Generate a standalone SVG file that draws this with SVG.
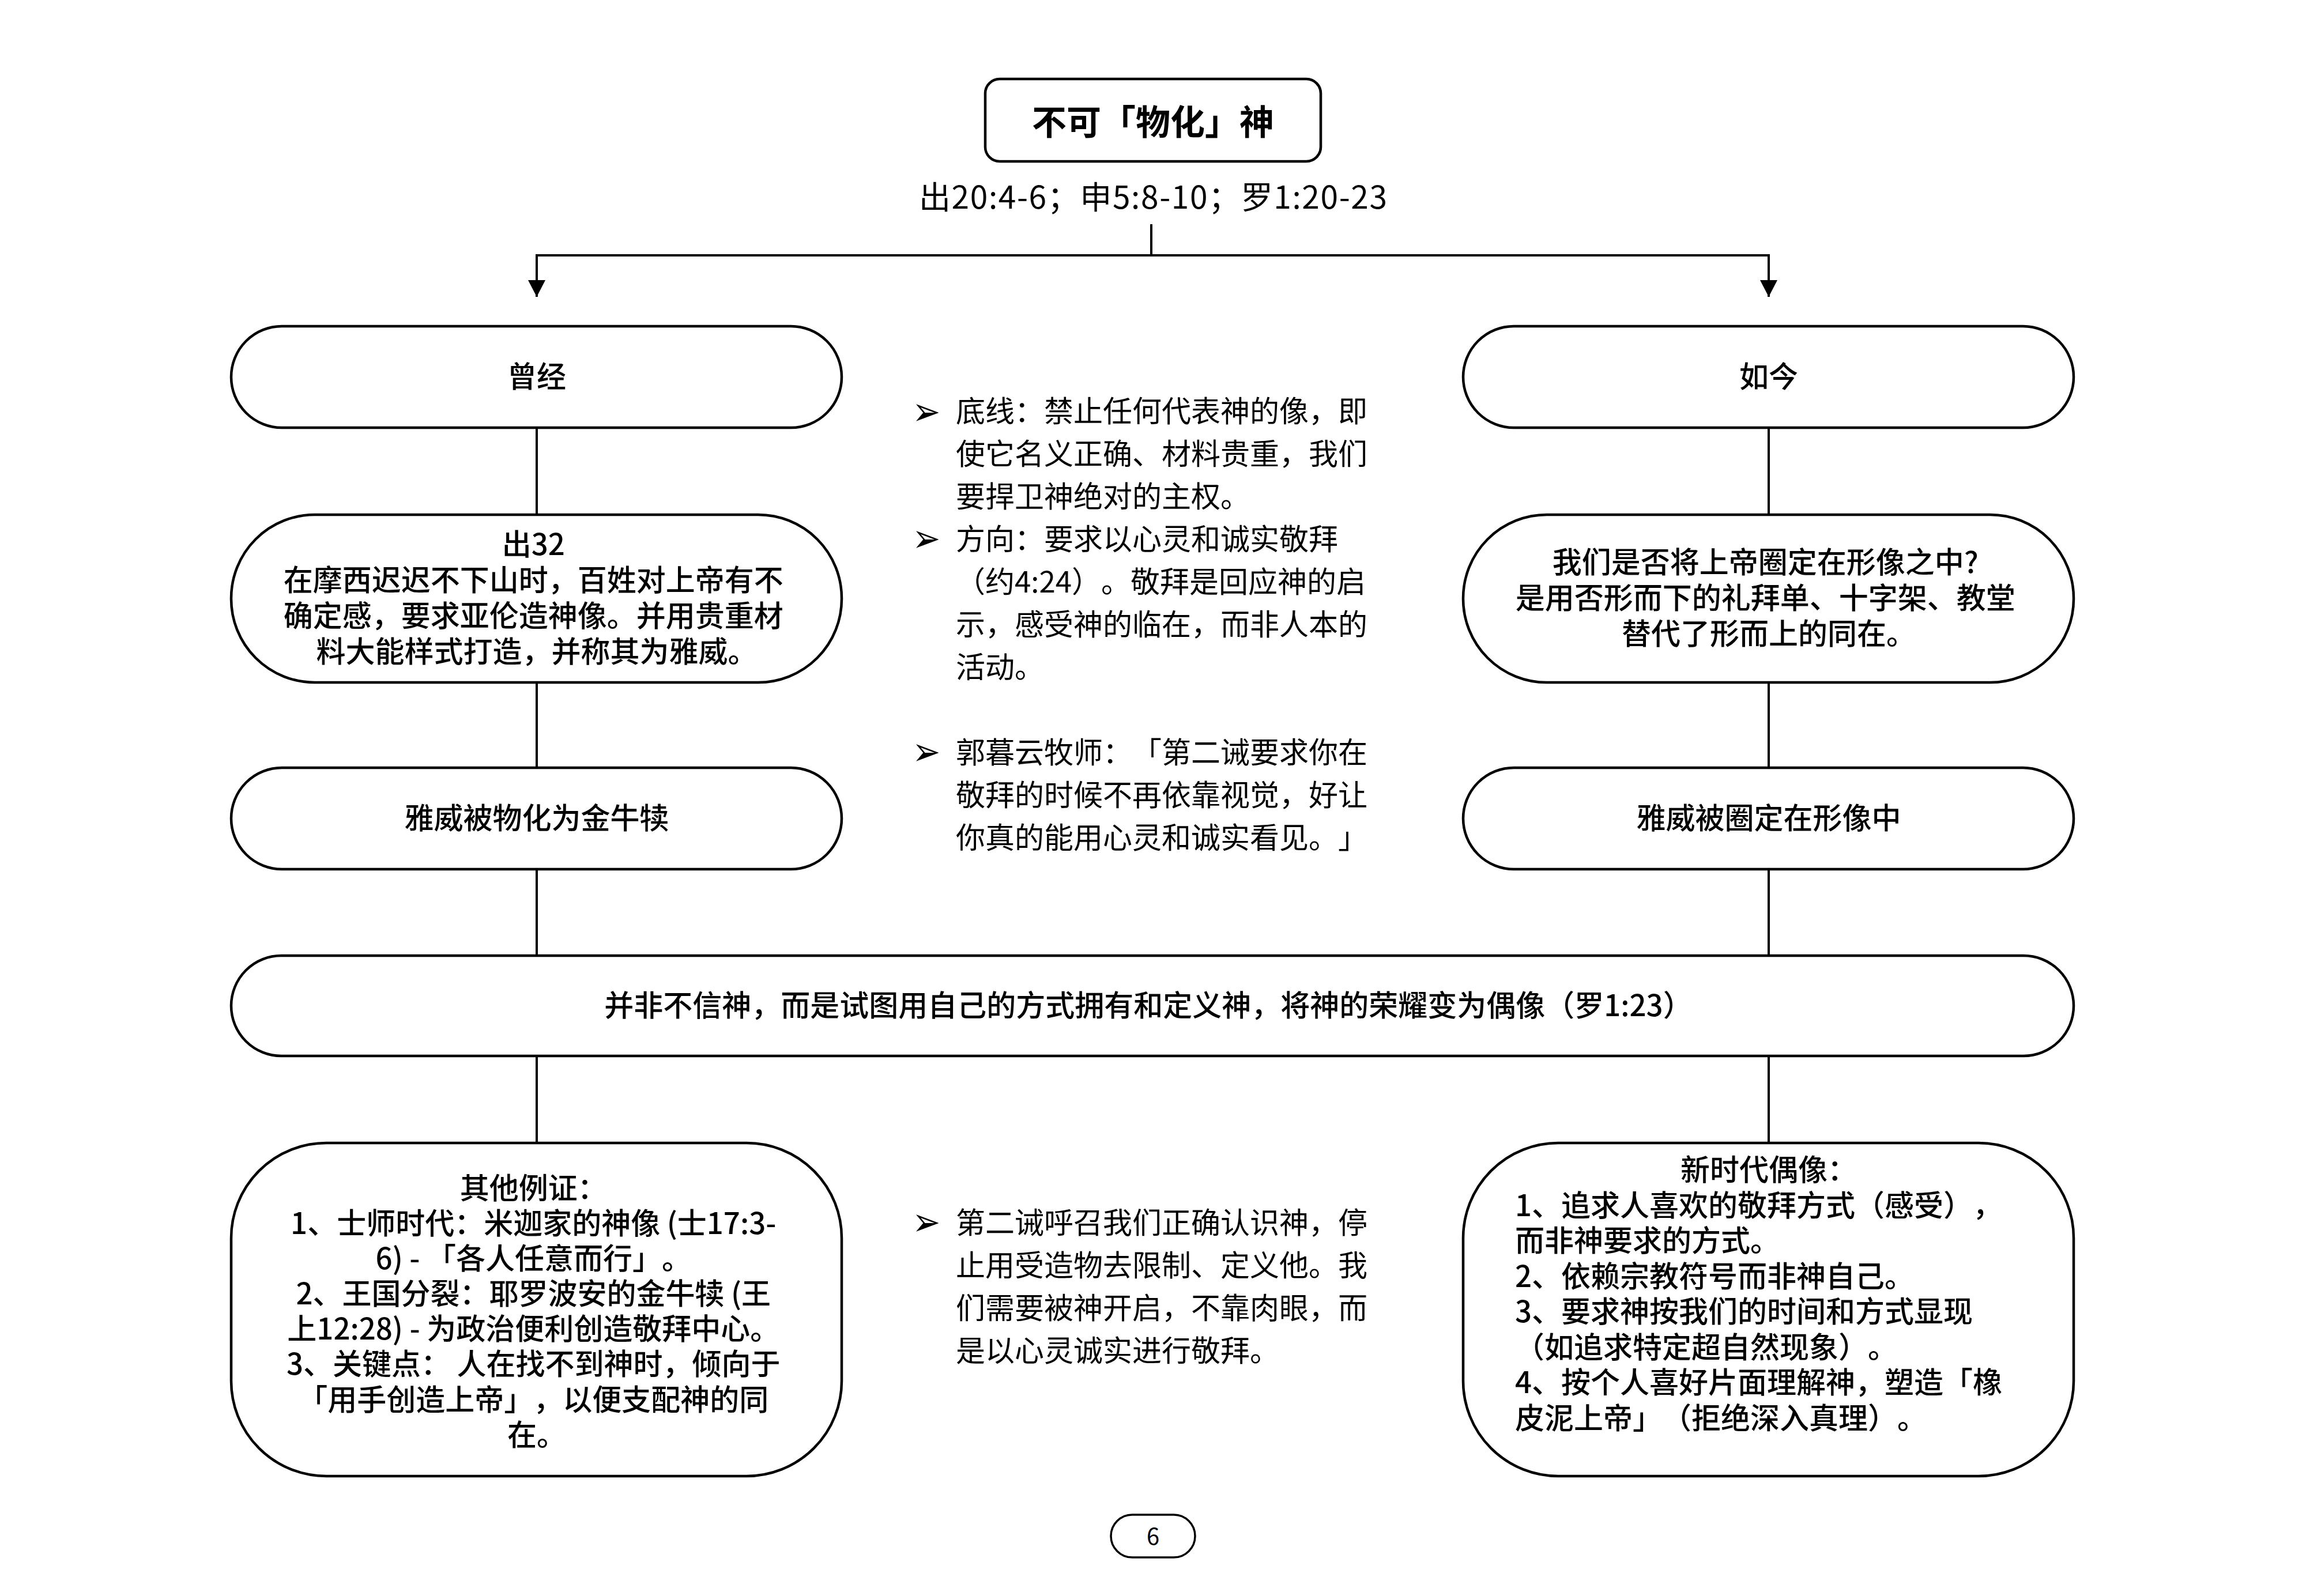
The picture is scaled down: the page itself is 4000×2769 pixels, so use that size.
<svg xmlns="http://www.w3.org/2000/svg" width="4000" height="2769" viewBox="0 0 4000 2769">
<style>
  .box { fill: #ffffff; stroke: #000000; stroke-width: 4.5; }
  .conn { stroke: #000000; stroke-width: 4; fill: none; }
  .t { font-family: "Noto Sans CJK SC", "Noto Sans", sans-serif; fill: #000000; text-spacing-trim: space-all; }
  .bt { font-size: 51px; font-weight: 500; text-anchor: middle; }
  .bl { font-size: 51px; font-weight: 500; text-anchor: start; }
  .mid { font-size: 51px; font-weight: 400; text-anchor: start; }
  .bullet-o { fill: #ffffff; stroke: #000000; stroke-width: 2.5; stroke-linejoin: miter; }
  .bullet-f { fill: #000000; }
</style>
<defs>
  <marker id="arrow" markerWidth="30" markerHeight="30" refX="29" refY="15" orient="auto" markerUnits="userSpaceOnUse">
    <path d="M0,0 L29,15 L0,30 Z" fill="#000000"/>
  </marker>
  <g id="bul">
    <path class="bullet-o" d="M0,0 L32,12 L0,24 L10,12 Z"/>
    <path class="bullet-f" d="M10,12 L32,12 L0,24 Z"/>
  </g>
</defs>
<rect width="4000" height="2769" fill="#ffffff"/>

<g id="connectors">
  <line class="conn" x1="1997" y1="389" x2="1997" y2="443"/>
  <line class="conn" x1="929" y1="443" x2="3070" y2="443"/>
  <line class="conn" x1="931" y1="441" x2="931" y2="515" marker-end="url(#arrow)"/>
  <line class="conn" x1="3068" y1="441" x2="3068" y2="515" marker-end="url(#arrow)"/>
  <line class="conn" x1="931" y1="742" x2="931" y2="893"/>
  <line class="conn" x1="931" y1="1184" x2="931" y2="1332"/>
  <line class="conn" x1="931" y1="1508" x2="931" y2="1658"/>
  <line class="conn" x1="931" y1="1832" x2="931" y2="1983"/>
  <line class="conn" x1="3068" y1="742" x2="3068" y2="893"/>
  <line class="conn" x1="3068" y1="1184" x2="3068" y2="1332"/>
  <line class="conn" x1="3068" y1="1508" x2="3068" y2="1658"/>
  <line class="conn" x1="3068" y1="1832" x2="3068" y2="1983"/>
</g>

<g id="title">
  <rect class="box" x="1709" y="137" width="582" height="143" rx="25" ry="25"/>
  <text class="t" x="2000" y="234" font-size="60" font-weight="700" text-anchor="middle">不可「物化」神</text>
</g>

<g id="refs">
  <text class="t" x="1594" y="362" font-size="55" textLength="812" lengthAdjust="spacing">出20:4-6；申5:8-10；罗1:20-23</text>
</g>

<g id="node-past">
  <rect class="box" x="401" y="566" width="1059" height="176" rx="88" ry="88"/>
  <text class="t bt" x="931" y="672">曾经</text>
</g>

<g id="node-now">
  <rect class="box" x="2538" y="566" width="1059" height="176" rx="88" ry="88"/>
  <text class="t bt" x="3068" y="672">如今</text>
</g>

<g id="node-ex32">
  <rect class="box" x="401" y="893" width="1059" height="291" rx="145" ry="145"/>
  <text class="t bt">
    <tspan x="931" y="963">出32</tspan>
    <tspan x="931" y="1025">在摩西迟迟不下山时，百姓对上帝有不</tspan>
    <tspan x="931" y="1087">确定感，要求亚伦造神像。并用贵重材</tspan>
    <tspan x="931" y="1149">料大能样式打造，并称其为雅威。</tspan>
  </text>
</g>

<g id="node-question">
  <rect class="box" x="2538" y="893" width="1059" height="291" rx="145" ry="145"/>
  <text class="t bt">
    <tspan x="3068" y="994">我们是否将上帝圈定在形像之中?</tspan>
    <tspan x="3068" y="1056">是用否形而下的礼拜单、十字架、教堂</tspan>
    <tspan x="3068" y="1118">替代了形而上的同在。</tspan>
  </text>
</g>

<g id="node-calf">
  <rect class="box" x="401" y="1332" width="1059" height="176" rx="88" ry="88"/>
  <text class="t bt" x="931" y="1438">雅威被物化为金牛犊</text>
</g>

<g id="node-image">
  <rect class="box" x="2538" y="1332" width="1059" height="176" rx="88" ry="88"/>
  <text class="t bt" x="3068" y="1438">雅威被圈定在形像中</text>
</g>

<g id="node-summary">
  <rect class="box" x="401" y="1658" width="3196" height="174" rx="87" ry="87"/>
  <text class="t bt" x="1992" y="1763">并非不信神，而是试图用自己的方式拥有和定义神，将神的荣耀变为偶像（罗1:23）</text>
</g>

<g id="node-examples">
  <rect class="box" x="401" y="1983" width="1059" height="578" rx="165" ry="165"/>
  <text class="t bt">
    <tspan x="931" y="2080">其他例证：</tspan>
    <tspan x="931" y="2141">1、士师时代：米迦家的神像 (士17:3-</tspan>
    <tspan x="931" y="2202">6) - 「各人任意而行」。</tspan>
    <tspan x="931" y="2263">2、王国分裂：耶罗波安的金牛犊 (王</tspan>
    <tspan x="931" y="2324">上12:28) - 为政治便利创造敬拜中心。</tspan>
    <tspan x="931" y="2385">3、关键点： 人在找不到神时，倾向于</tspan>
    <tspan x="931" y="2447">「用手创造上帝」，以便支配神的同</tspan>
    <tspan x="931" y="2508">在。</tspan>
  </text>
</g>

<g id="node-newage">
  <rect class="box" x="2538" y="1983" width="1059" height="578" rx="165" ry="165"/>
  <text class="t bt" x="3068" y="2048">新时代偶像：</text>
  <text class="t bl">
    <tspan x="2628" y="2110">1、追求人喜欢的敬拜方式（感受），</tspan>
    <tspan x="2628" y="2171">而非神要求的方式。</tspan>
    <tspan x="2628" y="2233">2、依赖宗教符号而非神自己。</tspan>
    <tspan x="2628" y="2294">3、要求神按我们的时间和方式显现</tspan>
    <tspan x="2628" y="2356">（如追求特定超自然现象）。</tspan>
    <tspan x="2628" y="2417">4、按个人喜好片面理解神，塑造「橡</tspan>
    <tspan x="2628" y="2479">皮泥上帝」（拒绝深入真理）。</tspan>
  </text>
</g>

<g id="notes-top">
  <use href="#bul" x="1593" y="704"/>
  <use href="#bul" x="1593" y="924"/>
  <use href="#bul" x="1593" y="1294"/>
  <text class="t mid">
    <tspan x="1658" y="732">底线：禁止任何代表神的像，即</tspan>
    <tspan x="1658" y="806">使它名义正确、材料贵重，我们</tspan>
    <tspan x="1658" y="880">要捍卫神绝对的主权。</tspan>
  </text>
  <text class="t mid">
    <tspan x="1658" y="954">方向：要求以心灵和诚实敬拜</tspan>
    <tspan x="1658" y="1028">（约4:24）。敬拜是回应神的启</tspan>
    <tspan x="1658" y="1102">示，感受神的临在，而非人本的</tspan>
    <tspan x="1658" y="1176">活动。</tspan>
  </text>
  <text class="t mid">
    <tspan x="1658" y="1324">郭暮云牧师：「第二诫要求你在</tspan>
    <tspan x="1658" y="1398">敬拜的时候不再依靠视觉，好让</tspan>
    <tspan x="1658" y="1472">你真的能用心灵和诚实看见。」</tspan>
  </text>
</g>

<g id="notes-bottom">
  <use href="#bul" x="1593" y="2110"/>
  <text class="t mid">
    <tspan x="1658" y="2140">第二诫呼召我们正确认识神，停</tspan>
    <tspan x="1658" y="2214">止用受造物去限制、定义他。我</tspan>
    <tspan x="1658" y="2288">们需要被神开启，不靠肉眼，而</tspan>
    <tspan x="1658" y="2362">是以心灵诚实进行敬拜。</tspan>
  </text>
</g>

<g id="page-number">
  <rect x="1927" y="2628" width="146" height="74" rx="37" ry="37" fill="#ffffff" stroke="#000000" stroke-width="3.5"/>
  <text class="t" x="2000" y="2680" font-size="40" text-anchor="middle">6</text>
</g>
</svg>
